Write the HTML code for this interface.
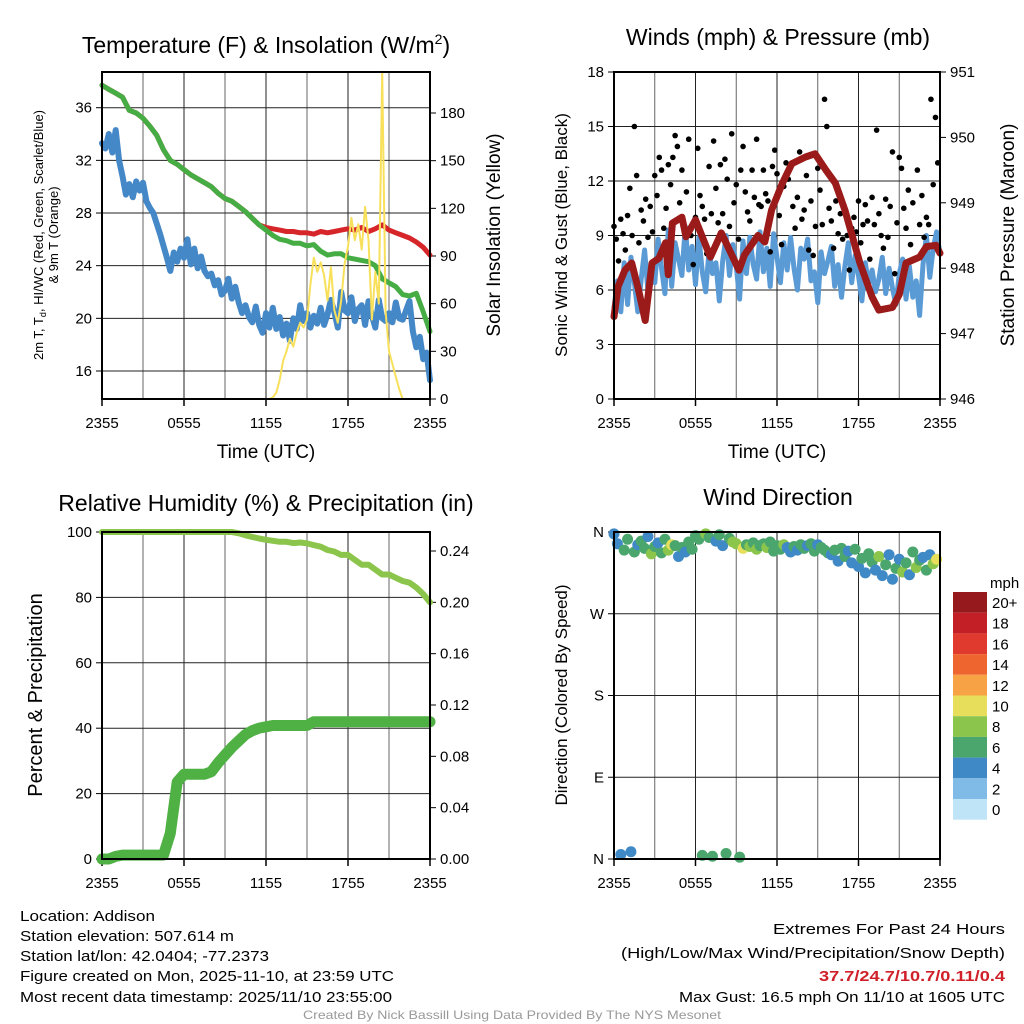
<!DOCTYPE html>
<html><head><meta charset="utf-8"><style>
body{margin:0;background:#fff;}
svg{display:block;font-family:"Liberation Sans",sans-serif;}
</style></head><body>
<svg id="chart" width="1024" height="1024" viewBox="0 0 1024 1024" xmlns="http://www.w3.org/2000/svg">
<rect width="1024" height="1024" fill="#fff"/>
<g id="layer"></g>
<text x="266" y="53" font-size="23" text-anchor="middle">Temperature (F) &amp; Insolation (W/m<tspan font-size="14" dy="-9">2</tspan><tspan dy="9">)</tspan></text>
<text x="778" y="45" font-size="23" text-anchor="middle">Winds (mph) &amp; Pressure (mb)</text>
<text x="266" y="511" font-size="23" text-anchor="middle">Relative Humidity (%) &amp; Precipitation (in)</text>
<text x="778" y="505" font-size="23" text-anchor="middle">Wind Direction</text>
<text x="266" y="458" font-size="19" text-anchor="middle">Time (UTC)</text>
<text x="777" y="458" font-size="19" text-anchor="middle">Time (UTC)</text>
<text transform="translate(43,235) rotate(-90)" font-size="13" text-anchor="middle" textLength="250" lengthAdjust="spacingAndGlyphs">2m T, T<tspan font-size="9" dy="3">d</tspan><tspan dy="-3">, HI/WC (Red, Green, Scarlet/Blue)</tspan></text>
<text transform="translate(58,235) rotate(-90)" font-size="13" text-anchor="middle">&amp; 9m T (Orange)</text>
<text transform="translate(500,235) rotate(-90)" font-size="19" text-anchor="middle">Solar Insolation (Yellow)</text>
<text transform="translate(567,235) rotate(-90)" font-size="17" text-anchor="middle">Sonic Wind &amp; Gust (Blue, Black)</text>
<text transform="translate(1014,235) rotate(-90)" font-size="19" text-anchor="middle">Station Pressure (Maroon)</text>
<text transform="translate(42,695) rotate(-90)" font-size="20" text-anchor="middle">Percent &amp; Precipitation</text>
<text transform="translate(567,695) rotate(-90)" font-size="17" text-anchor="middle">Direction (Colored By Speed)</text>
<text x="990" y="588" font-size="15">mph</text>
<g font-size="15">
<text x="20" y="921" textLength="135" lengthAdjust="spacingAndGlyphs">Location: Addison</text>
<text x="20" y="941" textLength="214" lengthAdjust="spacingAndGlyphs">Station elevation: 507.614 m</text>
<text x="20" y="961" textLength="249" lengthAdjust="spacingAndGlyphs">Station lat/lon: 42.0404; -77.2373</text>
<text x="20" y="981" textLength="374" lengthAdjust="spacingAndGlyphs">Figure created on Mon, 2025-11-10, at 23:59 UTC</text>
<text x="20" y="1002" textLength="372" lengthAdjust="spacingAndGlyphs">Most recent data timestamp: 2025/11/10 23:55:00</text>
<text x="1005" y="934" text-anchor="end" textLength="232" lengthAdjust="spacingAndGlyphs">Extremes For Past 24 Hours</text>
<text x="1005" y="958" text-anchor="end" textLength="384" lengthAdjust="spacingAndGlyphs">(High/Low/Max Wind/Precipitation/Snow Depth)</text>
<text x="1005" y="981" text-anchor="end" fill="#d0202a" font-weight="bold" textLength="186" lengthAdjust="spacingAndGlyphs">37.7/24.7/10.7/0.11/0.4</text>
<text x="1005" y="1002" text-anchor="end" textLength="326" lengthAdjust="spacingAndGlyphs">Max Gust: 16.5 mph On 11/10 at 1605 UTC</text>
</g>
<text x="512" y="1019" font-size="12" fill="#999" text-anchor="middle" textLength="418" lengthAdjust="spacingAndGlyphs">Created By Nick Bassill Using Data Provided By The NYS Mesonet</text>
</svg>
<script>
// ---- data ----
const tempF = [37.7,37.4,37.1,36.8,35.8,35.6,35.2,34.6,33.9,32.8,32.0,31.7,31.3,30.9,30.6,30.3,30.0,29.5,29.1,28.9,28.5,28.1,27.6,27.1,26.9,26.8,26.7,26.6,26.6,26.5,26.5,26.4,26.6,26.5,26.6,26.7,26.8,26.7,26.9,26.6,26.8,27.1,26.7,26.5,26.3,26.1,25.8,25.4,24.8];
const windChillF = [37.7,37.4,37.1,36.8,35.8,35.6,35.2,34.6,33.9,32.8,32.0,31.7,31.3,30.9,30.6,30.3,30.0,29.5,29.1,28.9,28.5,28.1,27.6,27.1,26.7,26.3,26.0,25.9,25.7,25.7,25.5,25.6,25.1,24.8,24.9,24.9,24.6,24.5,24.4,24.3,24.0,23.0,22.7,22.4,21.8,21.7,21.9,20.5,19.0];
const dewPointF = [33.3,32.9,34.0,32.6,34.3,32.0,30.8,29.4,30.2,29.2,30.4,29.7,30.3,28.9,28.4,28.0,27.2,26.4,25.5,24.6,23.6,25.0,24.3,25.3,24.6,26.0,24.1,25.3,23.8,24.7,23.6,23.2,23.4,22.5,22.9,21.8,22.1,23.0,21.5,22.4,21.2,20.4,21.0,20.1,19.7,20.9,19.5,18.9,20.4,19.3,20.8,19.2,20.1,18.7,19.6,18.3,20.0,19.2,21.0,19.8,20.4,19.3,20.2,19.6,20.8,19.5,20.3,21.4,20.5,19.3,22.0,20.6,20.4,21.6,19.8,20.7,21.0,19.5,21.3,20.2,19.3,21.4,20.0,19.8,20.4,19.7,21.2,20.0,19.9,20.6,21.3,19.0,17.8,18.6,16.9,17.4,15.3];
const solarWm2 = [0,0,0,0,0,0,0,0,0,0,0,0,0,0,0,0,0,0,0,0,0,0,0,0,0,0,0,0,0,0,0,0,0,0,0,0,0,0,0,0,0,0,0,0,0,0,0,0,0,0,1,4,12,24,30,38,33,42,48,45,50,72,89,80,86,78,62,83,56,48,62,85,96,114,100,110,94,121,100,50,80,60,206,55,30,22,14,6,0,0,0,0,0,0,0,0,0];
const sonicWind = [5.0,6.5,4.8,7.5,5.2,7.8,6.4,4.8,6.6,8.2,5.9,7.0,6.4,8.8,7.2,5.8,9.3,6.2,8.6,7.7,6.8,9.5,7.1,8.4,6.3,8.9,7.0,5.9,8.2,6.9,7.5,5.4,7.6,9.0,6.8,8.5,7.3,5.5,8.7,6.9,8.9,7.4,6.6,9.2,7.0,8.3,6.2,9.1,7.8,6.4,8.6,7.1,8.9,7.2,6.0,8.3,7.7,8.8,6.5,7.0,5.3,8.1,6.9,7.6,8.4,6.2,7.4,5.6,7.3,8.6,6.4,7.9,6.8,5.4,7.5,6.3,7.1,5.9,6.6,7.8,5.8,7.2,6.1,5.2,6.9,7.7,5.5,7.3,5.6,6.5,4.6,7.4,9.0,6.7,8.3,9.2,8.0];
const gustMph = [9.5,8.8,7.6,9.9,9.1,8.2,10.1,11.6,9.0,15.0,12.3,8.6,10.4,9.8,11.0,8.9,10.6,9.2,12.3,11.2,13.3,12.6,9.4,10.5,12.9,11.8,13.3,14.5,13.9,10.8,12.6,9.5,11.4,14.3,9.0,7.4,10.0,13.8,11.2,10.6,9.9,8.0,12.8,10.2,14.2,11.6,9.7,12.9,10.2,13.2,12.1,9.5,14.6,10.8,11.8,8.8,12.6,13.9,11.4,10.3,9.8,12.6,11.1,14.3,10.7,10.6,12.6,11.3,10.9,8.1,12.8,13.7,12.4,10.1,8.5,11.7,13.0,12.1,12.8,10.6,9.4,11.1,13.6,9.9,10.4,12.3,8.2,10.9,7.9,9.5,12.7,11.5,9.6,16.5,15.0,10.5,9.8,8.3,10.9,9.1,10.2,8.8,10.4,9.0,7.1,9.4,10.0,9.2,10.9,8.6,9.6,10.7,9.8,7.7,11.1,9.6,14.8,10.2,9.0,8.3,11.0,8.9,10.6,13.6,6.9,9.7,13.3,12.7,10.5,9.4,11.5,8.5,10.8,7.7,12.6,9.6,11.2,8.9,10.0,9.6,16.5,11.8,15.5,13.0];
const pressureHours = [0,0.3,0.8,1.3,1.8,2.3,2.8,3.3,3.8,4.0,4.3,5.0,5.3,6.0,7.1,7.9,9.2,9.6,10.6,11.1,11.6,12.4,13.1,14.1,14.8,15.6,16.3,17.0,18.1,19.0,19.5,20.5,21.0,21.5,22.5,23.0,23.7,24.0];
const pressureMb = [947.26,947.72,947.97,948.08,947.67,947.2,948.08,948.15,948.39,947.9,948.69,948.78,948.48,948.74,948.17,948.54,947.97,948.2,948.5,948.4,948.89,949.3,949.6,949.7,949.75,949.5,949.3,948.89,948.08,947.56,947.36,947.4,947.6,948.08,948.17,948.33,948.35,948.23];
const rhPct = [100,100,100,100,100,100,100,100,100,100,100,100,100,100,100,100,100,100,100,100,99.6,99,98.5,98,97.6,97.3,97,97,96.6,96.8,96.5,96,95.5,94.5,94,93,93,91.5,90,90,88.5,87,87,86,85,84.5,83,81,78.5];
const precipIn = [0,0,0.002,0.003,0.003,0.003,0.003,0.003,0.003,0.003,0.02,0.06,0.066,0.066,0.066,0.066,0.068,0.075,0.081,0.087,0.092,0.097,0.1,0.102,0.103,0.104,0.104,0.104,0.104,0.104,0.104,0.107,0.107,0.107,0.107,0.107,0.107,0.107,0.107,0.107,0.107,0.107,0.107,0.107,0.107,0.107,0.107,0.107,0.107];
const windDirDeg = [358,347,5,340,352,8,338,346,350,342,355,336,344,348,337,352,340,346,345,333,343,338,349,341,356,352,4,358,354,3,350,357,345,6,353,349,347,2,342,346,344,348,341,345,347,343,349,339,345,341,346,343,338,344,340,346,342,345,347,339,346,343,340,337,335,340,328,342,333,339,326,341,322,331,315,336,327,318,333,312,324,335,308,320,330,316,326,313,338,321,329,332,318,335,325,330];
const windDirSpeed = [5,4,4,6,6,5,7,4,7,6,5,8,6,4,7,7,8,10,6,5,7,4,6,7,6,7,6,8,7,6,5,6,4,7,6,8,8,7,10,7,8,7,8,6,7,8,6,7,6,7,8,5,4,6,5,7,6,4,7,6,5,6,7,6,4,6,5,7,6,4,5,6,5,6,4,7,6,5,8,4,6,4,5,7,5,8,6,4,7,8,6,5,6,4,9,10];
const tempTicks = [16,20,24,28,32,36];
const solarTicks = [0,30,60,90,120,150,180];
const windTicks = [0,3,6,9,12,15,18];
const pressTicks = [946,947,948,949,950,951];
const pctTicks = [0,20,40,60,80,100];
const precipTicks = [0,0.04,0.08,0.12,0.16,0.20,0.24];
const dirTicks = [0,90,180,270,360];
const dirLabels = ['N','E','S','W','N'];
const timeLabels = ['2355','0555','1155','1755','2355'];
const cbarLabels = ['20+','18','16','14','12','10','8','6','4','2','0'];
const cbarColors = ['#961a1d','#c21f26','#e03a2f','#ef6530','#f6a245','#e7df5b','#8cc54c','#4aa66c','#3f89c6','#7fbbe6','#bfe4f8'];

// ---- scales ----
const NS='http://www.w3.org/2000/svg';
const L=document.getElementById('layer');
function mk(tag,at,parent){const e=document.createElementNS(NS,tag);for(const k in at)e.setAttribute(k,at[k]);(parent||L).appendChild(e);return e;}
function lin(d0,d1,r0,r1){return v=>r0+(v-d0)*(r1-r0)/(d1-d0);}
const P1={x0:102,x1:430,y0:72,y1:399}, P2={x0:614,x1:940,y0:72,y1:399}, P3={x0:102,x1:430,y0:532,y1:859}, P4={x0:614,x1:940,y0:532,y1:859};
const xs1=lin(0,24,P1.x0,P1.x1), xs2=lin(0,24,P2.x0,P2.x1);
const yT=lin(16,36,371,107.7), yS=lin(0,180,399,113);
const yW=lin(0,18,399,72), yP=lin(946,951,399,72);
const yRH=lin(0,100,859,532), yPr=lin(0,0.24,859,551);
const yD=lin(0,360,859,532);
function cColor(s){let i=Math.min(10,Math.floor(s/2));return cbarColors[10-i];}

function frame(P,name,xs){
  const g=mk('g',{});
  
  
  for(let h=0;h<=24;h+=3){mk('line',{x1:xs(h),x2:xs(h),y1:P.y0,y2:P.y1,stroke:(h%6?'#666':'#222'),'stroke-width':1},g);}
  const xl=mk('g',{});
  
  
  timeLabels.forEach((t,i)=>{const e=mk('text',{x:xs(i*6),y:P.y1+29,'font-size':15,'text-anchor':'middle'},xl);e.textContent=t;
    mk('line',{x1:xs(i*6),x2:xs(i*6),y1:P.y1,y2:P.y1+7,stroke:'#000','stroke-width':1.5},g);});
  return g;
}
function hgrid(P,vals,ys,g){vals.forEach(v=>{const y=ys(v);if(y>P.y0+1&&y<P.y1-1)mk('line',{x1:P.x0,x2:P.x1,y1:y,y2:y,stroke:'#222','stroke-width':1},g);});}
function ylabels(P,vals,ys,fmt,left,name){
  const g=mk('g',{});
  
  
  vals.forEach((v,i)=>{const y=ys(v);const e=mk('text',{x:left?P.x0-10:P.x1+10,y:y+5,'font-size':15,'text-anchor':left?'end':'start'},g);e.textContent=fmt(v,i);
    mk('line',{x1:left?P.x0-6:P.x1,x2:left?P.x0:P.x1+6,y1:y,y2:y,stroke:'#000'},g);});
}
function border(P,name){const r=mk('rect',{x:P.x0,y:P.y0,width:P.x1-P.x0,height:P.y1-P.y0,fill:'none',stroke:'#000','stroke-width':2});
  
  }
function line(xsF,ys,data,step,col,w,name){
  const pts=data.map((v,i)=>xsF(i*step).toFixed(1)+','+ys(v).toFixed(1)).join(' ');
  const p=mk('polyline',{points:pts,fill:'none',stroke:col,'stroke-width':w,'stroke-linejoin':'round','stroke-linecap':'round'});
  
  
  return p;
}

// ---- panel 1 ----
const g1=frame(P1,'temperature',xs1); hgrid(P1,tempTicks,yT,g1);
ylabels(P1,tempTicks,yT,v=>v,true,'temp-y-tick-labels');
ylabels(P1,solarTicks,yS,v=>v,false,'solar-y-tick-labels');
line(xs1,yT,tempF,0.5,'#d7262a',5,'temperature-line');
line(xs1,yT,windChillF,0.5,'#46ad45',5,'windchill-line');
line(xs1,yT,dewPointF,0.25,'#4588c8',6,'dewpoint-line');
line(xs1,yS,solarWm2,0.25,'#f8e05a',2,'solar-line');
border(P1,'temperature');

// ---- panel 2 ----
const g2=frame(P2,'winds',xs2); hgrid(P2,windTicks,yW,g2);
ylabels(P2,windTicks,yW,v=>v,true,'wind-y-tick-labels');
ylabels(P2,pressTicks,yP,v=>v,false,'pressure-y-tick-labels');
line(xs2,yW,sonicWind,0.25,'#5b9bd5',5,'sonic-wind-line');
const gg=mk('g',{});


gustMph.forEach((v,i)=>{const c=mk('circle',{cx:xs2(i*24/gustMph.length),cy:yW(v),r:2.8,fill:'#000'},gg);
  
  });
{const pts=pressureMb.map((v,i)=>xs2(pressureHours[i]).toFixed(1)+','+yP(v).toFixed(1)).join(' ');
 const p=mk('polyline',{points:pts,fill:'none',stroke:'#9b1a1a','stroke-width':7,'stroke-linejoin':'round','stroke-linecap':'round'});
 
 }
border(P2,'winds');

// ---- panel 3 ----
const g3=frame(P3,'humidity',xs1); hgrid(P3,pctTicks,yRH,g3);
ylabels(P3,pctTicks,yRH,v=>v,true,'percent-y-tick-labels');
ylabels(P3,precipTicks,yPr,v=>v.toFixed(2),false,'precip-y-tick-labels');
line(xs1,yRH,rhPct,0.5,'#8cc54c',6,'humidity-line');
line(xs1,yPr,precipIn,0.5,'#4fb043',11,'precipitation-line');
border(P3,'humidity');

// ---- panel 4 ----
const g4=frame(P4,'wind-direction',xs2); hgrid(P4,dirTicks,yD,g4);
ylabels(P4,dirTicks,yD,(v,i)=>dirLabels[i],true,'direction-y-tick-labels');
const gd=mk('g',{});


windDirDeg.forEach((d,i)=>{const c=mk('circle',{cx:xs2(i*24/windDirDeg.length),cy:yD(d),r:5.5,fill:cColor(windDirSpeed[i])},gd);
  
  });
border(P4,'wind-direction');

// ---- colorbar ----
const cb=mk('g',{});


cbarColors.forEach((c,i)=>{const y=592+i*20.7;
  const r=mk('rect',{x:953,y:y,width:34,height:20.7,fill:c},cb);
  
  
  const t=mk('text',{x:992,y:y+16,'font-size':15},cb);t.textContent=cbarLabels[i];});
</script>
</body></html>
